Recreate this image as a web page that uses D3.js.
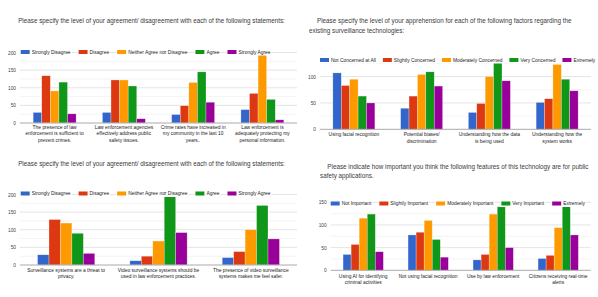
<!DOCTYPE html>
<html><head><meta charset="utf-8">
<script src="https://cdn.jsdelivr.net/npm/d3@7"></script>
<style>html,body{margin:0;padding:0;background:#fff;overflow:hidden}svg{display:block;font-family:"Liberation Sans",Arial,sans-serif}</style>
</head><body><svg id="c" width="598" height="297"></svg>
<script>
const colors = ["#3366cc","#dc3912","#ff9900","#109618","#990099"];

// Panel 1 (top-left)
const p1Title = ["Please specify the level of your agreement/ disagreement with each of the following statements:"];
const p1Series = ["Strongly Disagree","Disagree","Neither Agree nor Disagree","Agree","Strongly Agree"];
const p1Categories = [
  ["The presence of law","enforcement is sufficient to","prevent crimes."],
  ["Law enforcement agencies","effectively address public","safety issues."],
  ["Crime rates have increased in","my community in the last 10","years.."],
  ["Law enforcement is","adequately protecting my","personal information."]
];
const p1Values = [[30,134,91,116,26],[30,122,122,105,12],[24,49,115,145,59],[38,84,197,67,9]];
const p1Ticks = [0,50,100,150,200];

// Panel 2 (top-right)
const p2Title = ["Please specify the level of your apprehension for each of the following factors regarding the","existing surveillance technologies:"];
const p2Series = ["Not Concerned at All","Slightly Concerned","Moderately Concerned","Very Concerned","Extremely"];
const p2Categories = [
  ["Using facial recognition"],
  ["Potential biases/","discrimination"],
  ["Understanding how the data","is being used"],
  ["Understanding how the","system works"]
];
const p2Values = [[107,83,95,63,50],[40,63,104,109,82],[32,49,100,127,92],[51,58,123,95,73]];
const p2Ticks = [0,50,100];

// Panel 3 (bottom-left)
const p3Title = ["Please specify the level of your agreement/ disagreement with each of the following statements:"];
const p3Series = ["Strongly Disagree","Disagree","Neither Agree nor Disagree","Agree","Strongly Agree"];
const p3Categories = [
  ["Surveillance systems are a threat to","privacy."],
  ["Video surveillance systems should be","used in law enforcement practices."],
  ["The presence of video surveillance","systems makes me feel safer."]
];
const p3Values = [[29,129,119,90,33],[12,25,68,196,92],[21,38,100,169,74]];
const p3Ticks = [0,50,100,150,200];

// Panel 4 (bottom-right)
const p4Title = ["Please indicate how important you think the following features of this technology are for public","safety applications."];
const p4Series = ["Not Important","Slightly Important","Moderately Important","Very Important","Extremely"];
const p4Categories = [
  ["Using AI for identifying","criminal activities"],
  ["Not using facial recognition"],
  ["Use by law enforcement"],
  ["Citizens receiving real-time","alerts"]
];
const p4Values = [[35,57,115,124,41],[78,84,110,68,29],[23,35,124,140,50],[26,33,94,141,78]];
const p4Ticks = [0,50,100,150];

const svg = d3.select("#c");

function drawPanel(o){
  const g = svg.append("g");
  // title
  g.append("g").selectAll("text").data(o.title).join("text")
    .attr("x",(d,i)=>o.titleX[i]).attr("y",(d,i)=>o.titleY+i*9.4)
    .attr("text-anchor",o.titleAnchor).attr("dominant-baseline","central")
    .attr("font-size",6.3).attr("fill","#3a3a3a").text(d=>d);

  const x = d3.scaleBand().domain(d3.range(o.cats.length)).range([o.x0,o.x1]).paddingInner(0.38).paddingOuter(0.19);
  const xs = d3.scaleBand().domain(d3.range(o.series.length)).range([0,x.bandwidth()]);
  const y = d3.scaleLinear().domain([0,o.ymax]).range([o.y0,o.ytop]);

  // gridlines
  const grid = d3.range(0,o.ymax+0.1,25);
  g.append("g").selectAll("line").data(grid.filter(v=>v>0)).join("line")
    .attr("x1",o.x0).attr("x2",o.x1).attr("y1",d=>y(d)).attr("y2",d=>y(d))
    .attr("stroke",d=>o.ticks.includes(d)?"#d9d9d9":"#efefef").attr("stroke-width",0.7);

  // y axis labels
  const ya = d3.axisLeft(y).tickValues(o.ticks).tickSize(0).tickPadding(4);
  const yg = g.append("g").attr("transform",`translate(${o.x0},0)`).call(ya);
  yg.select(".domain").remove();
  yg.selectAll("text").attr("font-size",4.8).attr("fill","#444").attr("font-family","Liberation Sans, Arial, sans-serif");

  // bars
  g.append("g").selectAll("g").data(o.values).join("g")
    .attr("transform",(d,i)=>`translate(${x(i)},0)`)
    .selectAll("rect").data(d=>d).join("rect")
    .attr("x",(d,j)=>xs(j)).attr("width",xs.bandwidth())
    .attr("y",d=>y(d)).attr("height",d=>y(0)-y(d))
    .attr("fill",(d,j)=>colors[j]).attr("stroke","#fff").attr("stroke-opacity",0.55).attr("stroke-width",0.5);

  // baseline
  g.append("line").attr("x1",o.x0).attr("x2",o.x1).attr("y1",y(0)).attr("y2",y(0)).attr("stroke","#aaa").attr("stroke-width",1);

  // x labels
  const xl = g.append("g").selectAll("text").data(o.cats).join("text")
    .attr("text-anchor","middle").attr("font-size",4.9).attr("fill","#222")
    .attr("transform",(d,i)=>`translate(${x(i)+x.bandwidth()/2},${y(0)+o.labOff})`);
  xl.selectAll("tspan").data(d=>d).join("tspan").attr("x",0).attr("y",(d,i)=>i*6.4).attr("dominant-baseline","central").text(d=>d);

  // legend
  const lg = g.append("g").attr("transform",`translate(${o.legX},${o.legY})`);
  let cx = 0;
  o.series.forEach((s,i)=>{
    const it = lg.append("g").attr("transform",`translate(${cx},0)`);
    const bg = it.append("rect").attr("y",-3.5).attr("height",7).attr("fill","#fff");
    it.append("rect").attr("x",0).attr("y",-2).attr("width",9).attr("height",4).attr("fill",colors[i]);
    const t = it.append("text").attr("x",11).attr("y",0).attr("dominant-baseline","central").attr("font-size",4.9).attr("fill","#222").text(s);
    const w = 11 + t.node().getComputedTextLength();
    bg.attr("x",-1).attr("width",w+2);
    cx += w + o.legGap;
  });
}

drawPanel({title:p1Title,titleX:[151.5],titleY:20.3,titleAnchor:"middle",series:p1Series,cats:p1Categories,values:p1Values,ticks:p1Ticks,
  x0:20,x1:297,y0:123,ytop:52.5,ymax:200,labOff:4.5,legX:20.7,legY:52,legGap:8});
drawPanel({title:p2Title,titleX:[317,309],titleY:20.7,titleAnchor:"start",series:p2Series,cats:p2Categories,values:p2Values,ticks:p2Ticks,
  x0:320,x1:591,y0:129.3,ytop:63.4,ymax:125,labOff:5.6,legX:320,legY:60,legGap:7});
drawPanel({title:p3Title,titleX:[151.5],titleY:163.5,titleAnchor:"middle",series:p3Series,cats:p3Categories,values:p3Values,ticks:p3Ticks,
  x0:20,x1:297,y0:265,ytop:194.5,ymax:200,labOff:5.6,legX:20.7,legY:193.5,legGap:8});
drawPanel({title:p4Title,titleX:[327.3,320],titleY:166,titleAnchor:"start",series:p4Series,cats:p4Categories,values:p4Values,ticks:p4Ticks,
  x0:330.7,x1:590.7,y0:270.3,ytop:202.3,ymax:150,labOff:6.3,legX:330.7,legY:203.5,legGap:8});
</script></body></html>
